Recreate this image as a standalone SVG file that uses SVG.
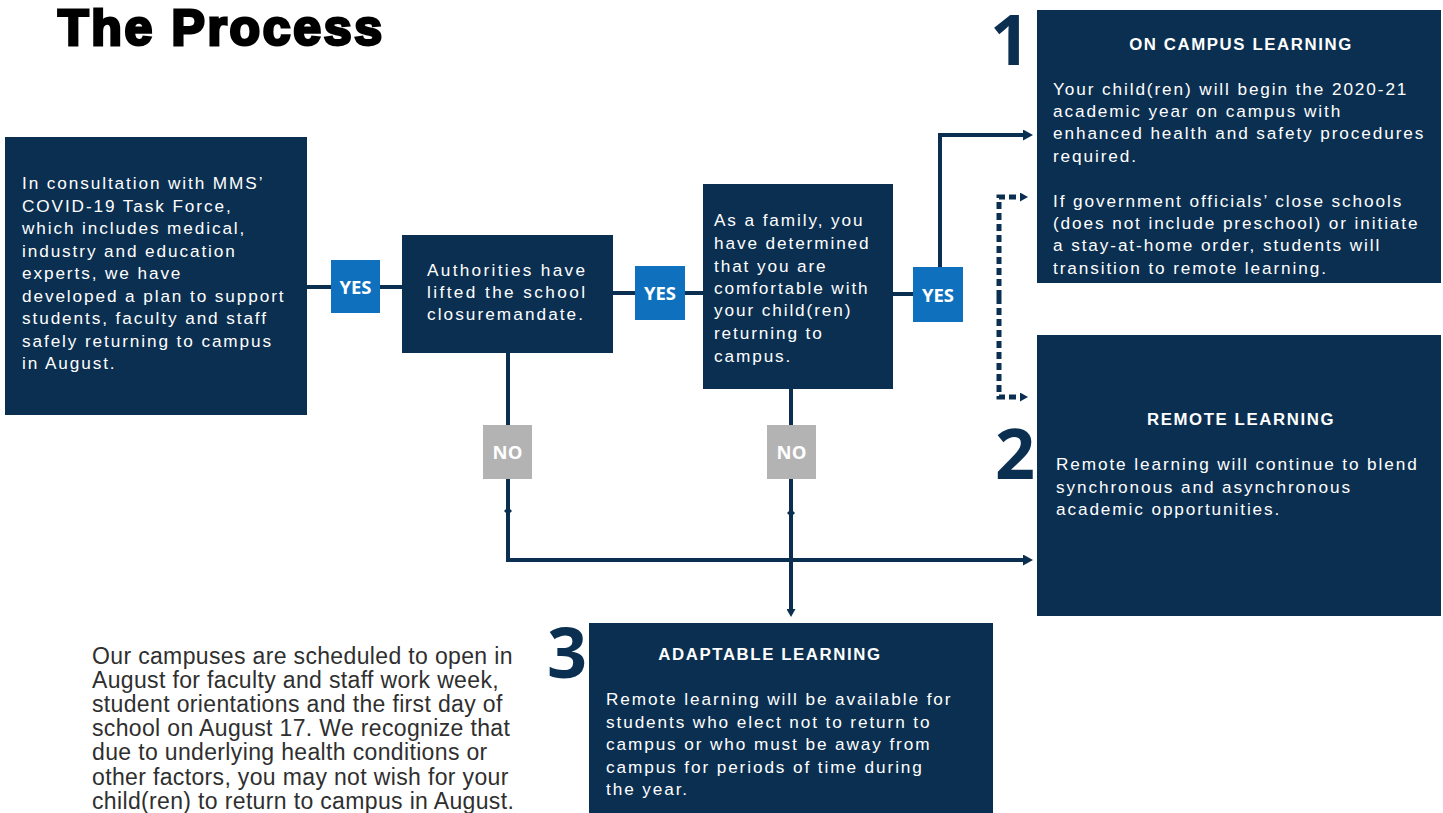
<svg xmlns="http://www.w3.org/2000/svg" width="1443" height="813" viewBox="0 0 1443 813">
<defs>
<style>
.box{fill:#0b2f51;}
.yes{fill:#0f71bd;}
.no{fill:#b3b3b3;}
.lbl{font-family:"Open Sans","Liberation Sans",sans-serif;font-weight:700;font-size:18.5px;fill:#ffffff;text-anchor:middle;}
.wt{font-family:"Liberation Sans",Arial,sans-serif;font-size:17.2px;letter-spacing:1.9px;fill:#ffffff;}
.hd{font-family:"Liberation Sans",Arial,sans-serif;font-weight:700;font-size:16.8px;letter-spacing:1.6px;fill:#ffffff;text-anchor:middle;}
.num{font-family:"Open Sans","Liberation Sans",sans-serif;font-weight:700;font-size:70px;fill:#0b2f51;text-anchor:end;}
.conn{fill:none;stroke:#0b2f51;stroke-width:4;}
.dash{fill:none;stroke:#0b2f51;stroke-width:5;stroke-dasharray:7 4;}
.bt{font-family:"Liberation Sans",Arial,sans-serif;font-size:23px;letter-spacing:0.35px;fill:#2f2f2f;}
</style>
<marker id="arr" markerUnits="userSpaceOnUse" markerWidth="10" markerHeight="11" viewBox="0 0 10 11" refX="1" refY="5.5" orient="auto">
<path d="M0,0 L10,5.5 L0,11 z" fill="#0b2f51"/>
</marker>
<marker id="arrs" markerUnits="userSpaceOnUse" markerWidth="8" markerHeight="9" viewBox="0 0 8 9" refX="1" refY="4.5" orient="auto">
<path d="M0,0 L8,4.5 L0,9 z" fill="#0b2f51"/>
</marker>
</defs>
<rect width="1443" height="813" fill="#ffffff"/>

<text x="58" y="45" font-family="'Liberation Sans',Arial,sans-serif" font-weight="700" font-size="50" fill="#000" stroke="#000" stroke-width="3" textLength="324" lengthAdjust="spacing">The Process</text>

<g id="connectors">
<path class="conn" d="M307,287 H402"/>
<path class="conn" d="M613,293 H703"/>
<path class="conn" d="M893,294 H940 V135 H1024" marker-end="url(#arr)"/>
<path class="conn" d="M508,353 V560 H1024" marker-end="url(#arr)"/>
<path class="conn" d="M791,388 V610" marker-end="url(#arrs)"/>
<path d="M504,511 L508,515 L512,511 L508,507 z" fill="#0b2f51"/>
<path d="M787,513 L791,517 L795,513 L791,509 z" fill="#0b2f51"/>
<path class="dash" d="M999,297 V197 H1021" marker-end="url(#arrs)"/>
<path class="dash" d="M999,297 V397 H1021" marker-end="url(#arrs)"/>
</g>

<g id="node-intro">
<rect class="box" x="5" y="137" width="302" height="278"/>
<text class="wt" x="22">
<tspan x="22" y="189">In consultation with MMS’</tspan>
<tspan x="22" y="212">COVID-19 Task Force,</tspan>
<tspan x="22" y="234">which includes medical,</tspan>
<tspan x="22" y="257">industry and education</tspan>
<tspan x="22" y="279">experts, we have</tspan>
<tspan x="22" y="302">developed a plan to support</tspan>
<tspan x="22" y="324">students, faculty and staff</tspan>
<tspan x="22" y="347">safely returning to campus</tspan>
<tspan x="22" y="369">in August.</tspan>
</text>
</g>

<g id="yes-1">
<rect class="yes" x="331" y="260" width="49" height="53"/>
<text class="lbl" x="355.5" y="294">YES</text>
</g>

<g id="node-authorities">
<rect class="box" x="402" y="235" width="211" height="118"/>
<text class="wt" x="427" y="276" textLength="158" lengthAdjust="spacing" style="letter-spacing:0">Authorities have</text>
<text class="wt" x="427" y="298" textLength="158" lengthAdjust="spacing" style="letter-spacing:0">lifted the school</text>
<text class="wt" x="427" y="320" textLength="156" lengthAdjust="spacing" style="letter-spacing:0">closuremandate.</text>
</g>

<g id="yes-2">
<rect class="yes" x="635" y="266" width="50" height="54"/>
<text class="lbl" x="660" y="300">YES</text>
</g>

<g id="node-family">
<rect class="box" x="703" y="184" width="190" height="205"/>
<text class="wt">
<tspan x="714" y="226">As a family, you</tspan>
<tspan x="714" y="249">have determined</tspan>
<tspan x="714" y="272">that you are</tspan>
<tspan x="714" y="294">comfortable with</tspan>
<tspan x="714" y="316">your child(ren)</tspan>
<tspan x="714" y="339">returning to</tspan>
<tspan x="714" y="362">campus.</tspan>
</text>
</g>

<g id="yes-3">
<rect class="yes" x="913" y="267" width="50" height="55"/>
<text class="lbl" x="938" y="302">YES</text>
</g>

<g id="no-1">
<rect class="no" x="483" y="425" width="49" height="54"/>
<text class="lbl" x="507.5" y="459">NO</text>
</g>

<g id="no-2">
<rect class="no" x="767" y="425" width="49" height="54"/>
<text class="lbl" x="791.5" y="459">NO</text>
</g>

<g id="node-on-campus">
<text class="num" x="1030" y="65">1</text>
<rect class="box" x="1037" y="10" width="404" height="273"/>
<text class="hd" x="1241" y="50">ON CAMPUS LEARNING</text>
<text class="wt">
<tspan x="1053" y="95">Your child(ren) will begin the 2020-21</tspan>
<tspan x="1053" y="117">academic year on campus with</tspan>
<tspan x="1053" y="139">enhanced health and safety procedures</tspan>
<tspan x="1053" y="162">required.</tspan>
<tspan x="1053" y="207">If government officials’ close schools</tspan>
<tspan x="1053" y="229">(does not include preschool) or initiate</tspan>
<tspan x="1053" y="251">a stay-at-home order, students will</tspan>
<tspan x="1053" y="274">transition to remote learning.</tspan>
</text>
</g>

<g id="node-remote">
<text class="num" x="1035" y="479">2</text>
<rect class="box" x="1037" y="335" width="404" height="281"/>
<text class="hd" x="1241" y="425">REMOTE LEARNING</text>
<text class="wt">
<tspan x="1056" y="470">Remote learning will continue to blend</tspan>
<tspan x="1056" y="493">synchronous and asynchronous</tspan>
<tspan x="1056" y="515">academic opportunities.</tspan>
</text>
</g>

<g id="node-adaptable">
<text class="num" x="587" y="678">3</text>
<rect class="box" x="589" y="623" width="404" height="195"/>
<text class="hd" x="770" y="660">ADAPTABLE LEARNING</text>
<text class="wt">
<tspan x="606" y="705">Remote learning will be available for</tspan>
<tspan x="606" y="728">students who elect not to return to</tspan>
<tspan x="606" y="750">campus or who must be away from</tspan>
<tspan x="606" y="773">campus for periods of time during</tspan>
<tspan x="606" y="795">the year.</tspan>
</text>
</g>

<g id="note">
<text class="bt">
<tspan x="92" y="664">Our campuses are scheduled to open in</tspan>
<tspan x="92" y="688">August for faculty and staff work week,</tspan>
<tspan x="92" y="712">student orientations and the first day of</tspan>
<tspan x="92" y="736">school on August 17. We recognize that</tspan>
<tspan x="92" y="760">due to underlying health conditions or</tspan>
<tspan x="92" y="785">other factors, you may not wish for your</tspan>
<tspan x="92" y="809">child(ren) to return to campus in August.</tspan>
</text>
</g>
</svg>
